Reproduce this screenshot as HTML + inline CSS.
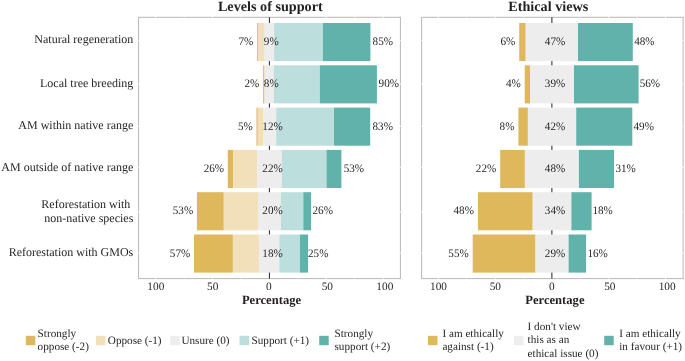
<!DOCTYPE html>
<html><head><meta charset="utf-8"><title>Levels of support and ethical views</title>
<style>
html,body{margin:0;padding:0;background:#fff;}
body{width:685px;height:361px;overflow:hidden;position:relative;font-family:"Liberation Serif",serif;}
</style></head><body>
<svg width="685" height="361" viewBox="0 0 685 361" style="position:absolute;left:0;top:0;font-family:'Liberation Serif',serif;text-rendering:geometricPrecision;">
<rect width="685" height="361" fill="#fff"/>
<rect x="138.6" y="17.3" width="261.80" height="261.30" fill="#fff" stroke="#BAB6B8" stroke-width="1"/>
<line x1="155.65" y1="16.3" x2="155.65" y2="279.6" stroke="#fff" stroke-width="0.9"/>
<line x1="184.09" y1="16.3" x2="184.09" y2="279.6" stroke="#fff" stroke-width="0.5"/>
<line x1="212.52" y1="16.3" x2="212.52" y2="279.6" stroke="#fff" stroke-width="0.9"/>
<line x1="240.96" y1="16.3" x2="240.96" y2="279.6" stroke="#fff" stroke-width="0.5"/>
<line x1="297.84" y1="16.3" x2="297.84" y2="279.6" stroke="#fff" stroke-width="0.5"/>
<line x1="326.27" y1="16.3" x2="326.27" y2="279.6" stroke="#fff" stroke-width="0.9"/>
<line x1="354.71" y1="16.3" x2="354.71" y2="279.6" stroke="#fff" stroke-width="0.5"/>
<line x1="383.15" y1="16.3" x2="383.15" y2="279.6" stroke="#fff" stroke-width="0.9"/>
<line x1="137.6" y1="40.40" x2="401.4" y2="40.40" stroke="#fff" stroke-width="0.9"/>
<line x1="137.6" y1="84.20" x2="401.4" y2="84.20" stroke="#fff" stroke-width="0.9"/>
<line x1="137.6" y1="126.20" x2="401.4" y2="126.20" stroke="#fff" stroke-width="0.9"/>
<line x1="137.6" y1="167.30" x2="401.4" y2="167.30" stroke="#fff" stroke-width="0.9"/>
<line x1="137.6" y1="212.00" x2="401.4" y2="212.00" stroke="#fff" stroke-width="0.9"/>
<line x1="137.6" y1="253.00" x2="401.4" y2="253.00" stroke="#fff" stroke-width="0.9"/>
<line x1="269.40" y1="17.3" x2="269.40" y2="278.6" stroke="#222" stroke-width="1"/>
<rect x="421.6" y="17.3" width="261.50" height="261.30" fill="#fff" stroke="#BAB6B8" stroke-width="1"/>
<line x1="438.30" y1="16.3" x2="438.30" y2="279.6" stroke="#fff" stroke-width="0.9"/>
<line x1="466.70" y1="16.3" x2="466.70" y2="279.6" stroke="#fff" stroke-width="0.5"/>
<line x1="495.10" y1="16.3" x2="495.10" y2="279.6" stroke="#fff" stroke-width="0.9"/>
<line x1="523.50" y1="16.3" x2="523.50" y2="279.6" stroke="#fff" stroke-width="0.5"/>
<line x1="580.30" y1="16.3" x2="580.30" y2="279.6" stroke="#fff" stroke-width="0.5"/>
<line x1="608.70" y1="16.3" x2="608.70" y2="279.6" stroke="#fff" stroke-width="0.9"/>
<line x1="637.10" y1="16.3" x2="637.10" y2="279.6" stroke="#fff" stroke-width="0.5"/>
<line x1="665.50" y1="16.3" x2="665.50" y2="279.6" stroke="#fff" stroke-width="0.9"/>
<line x1="420.6" y1="40.40" x2="684.1" y2="40.40" stroke="#fff" stroke-width="0.9"/>
<line x1="420.6" y1="84.20" x2="684.1" y2="84.20" stroke="#fff" stroke-width="0.9"/>
<line x1="420.6" y1="126.20" x2="684.1" y2="126.20" stroke="#fff" stroke-width="0.9"/>
<line x1="420.6" y1="167.30" x2="684.1" y2="167.30" stroke="#fff" stroke-width="0.9"/>
<line x1="420.6" y1="212.00" x2="684.1" y2="212.00" stroke="#fff" stroke-width="0.9"/>
<line x1="420.6" y1="253.00" x2="684.1" y2="253.00" stroke="#fff" stroke-width="0.9"/>
<line x1="551.90" y1="17.3" x2="551.90" y2="278.6" stroke="#222" stroke-width="1"/>
<rect x="257.00" y="23.00" width="0.90" height="38.10" fill="#DFB85C"/>
<rect x="257.90" y="23.00" width="6.80" height="38.10" fill="#F2E0BA"/>
<rect x="264.70" y="23.00" width="9.40" height="38.10" fill="#EDEDED"/>
<rect x="274.10" y="23.00" width="48.80" height="38.10" fill="#BCDFDD"/>
<rect x="322.90" y="23.00" width="47.50" height="38.10" fill="#60B2AB"/>
<rect x="263.00" y="65.30" width="0.90" height="38.10" fill="#DFB85C"/>
<rect x="263.90" y="65.30" width="1.00" height="38.10" fill="#F2E0BA"/>
<rect x="264.90" y="65.30" width="9.00" height="38.10" fill="#EDEDED"/>
<rect x="273.90" y="65.30" width="45.90" height="38.10" fill="#BCDFDD"/>
<rect x="319.80" y="65.30" width="57.10" height="38.10" fill="#60B2AB"/>
<rect x="256.50" y="107.60" width="1.30" height="38.10" fill="#DFB85C"/>
<rect x="257.80" y="107.60" width="5.20" height="38.10" fill="#F2E0BA"/>
<rect x="263.00" y="107.60" width="13.20" height="38.10" fill="#EDEDED"/>
<rect x="276.20" y="107.60" width="57.80" height="38.10" fill="#BCDFDD"/>
<rect x="334.00" y="107.60" width="36.20" height="38.10" fill="#60B2AB"/>
<rect x="227.80" y="149.90" width="5.30" height="38.10" fill="#DFB85C"/>
<rect x="233.10" y="149.90" width="24.10" height="38.10" fill="#F2E0BA"/>
<rect x="257.20" y="149.90" width="24.50" height="38.10" fill="#EDEDED"/>
<rect x="281.70" y="149.90" width="44.80" height="38.10" fill="#BCDFDD"/>
<rect x="326.50" y="149.90" width="14.90" height="38.10" fill="#60B2AB"/>
<rect x="196.90" y="192.20" width="26.90" height="38.10" fill="#DFB85C"/>
<rect x="223.80" y="192.20" width="34.20" height="38.10" fill="#F2E0BA"/>
<rect x="258.00" y="192.20" width="22.90" height="38.10" fill="#EDEDED"/>
<rect x="280.90" y="192.20" width="22.40" height="38.10" fill="#BCDFDD"/>
<rect x="303.30" y="192.20" width="7.80" height="38.10" fill="#60B2AB"/>
<rect x="194.00" y="234.50" width="38.90" height="38.10" fill="#DFB85C"/>
<rect x="232.90" y="234.50" width="26.30" height="38.10" fill="#F2E0BA"/>
<rect x="259.20" y="234.50" width="20.10" height="38.10" fill="#EDEDED"/>
<rect x="279.30" y="234.50" width="20.70" height="38.10" fill="#BCDFDD"/>
<rect x="300.00" y="234.50" width="8.10" height="38.10" fill="#60B2AB"/>
<rect x="519.20" y="23.00" width="6.50" height="38.10" fill="#DFB85C"/>
<rect x="525.70" y="23.00" width="52.30" height="38.10" fill="#EDEDED"/>
<rect x="578.00" y="23.00" width="54.80" height="38.10" fill="#60B2AB"/>
<rect x="524.70" y="65.30" width="5.50" height="38.10" fill="#DFB85C"/>
<rect x="530.20" y="65.30" width="43.80" height="38.10" fill="#EDEDED"/>
<rect x="574.00" y="65.30" width="64.60" height="38.10" fill="#60B2AB"/>
<rect x="518.40" y="107.60" width="9.50" height="38.10" fill="#DFB85C"/>
<rect x="527.90" y="107.60" width="48.30" height="38.10" fill="#EDEDED"/>
<rect x="576.20" y="107.60" width="56.10" height="38.10" fill="#60B2AB"/>
<rect x="500.20" y="149.90" width="24.70" height="38.10" fill="#DFB85C"/>
<rect x="524.90" y="149.90" width="54.00" height="38.10" fill="#EDEDED"/>
<rect x="578.90" y="149.90" width="35.20" height="38.10" fill="#60B2AB"/>
<rect x="477.90" y="192.20" width="54.80" height="38.10" fill="#DFB85C"/>
<rect x="532.70" y="192.20" width="38.70" height="38.10" fill="#EDEDED"/>
<rect x="571.40" y="192.20" width="20.20" height="38.10" fill="#60B2AB"/>
<rect x="472.70" y="234.50" width="62.80" height="38.10" fill="#DFB85C"/>
<rect x="535.50" y="234.50" width="33.10" height="38.10" fill="#EDEDED"/>
<rect x="568.60" y="234.50" width="17.50" height="38.10" fill="#60B2AB"/>
<rect x="25.80" y="335.8" width="9.5" height="9.4" fill="#DFB85C"/>
<rect x="95.90" y="335.8" width="9.5" height="9.4" fill="#F2E0BA"/>
<rect x="170.30" y="335.8" width="9.5" height="9.4" fill="#EDEDED"/>
<rect x="239.50" y="335.8" width="9.5" height="9.4" fill="#BCDFDD"/>
<rect x="319.20" y="335.8" width="9.5" height="9.4" fill="#60B2AB"/>
<rect x="428.00" y="335.8" width="9.5" height="9.4" fill="#DFB85C"/>
<rect x="514.00" y="335.8" width="9.5" height="9.4" fill="#EDEDED"/>
<rect x="604.20" y="335.8" width="9.5" height="9.4" fill="#60B2AB"/>
<g style="will-change:transform">
<text transform="translate(253.30,45.05) scale(0.97,1)" font-size="11.5" text-anchor="end" fill="#231F20">7%</text>
<text transform="translate(263.80,45.05) scale(0.97,1)" font-size="11.5" text-anchor="start" fill="#231F20">9%</text>
<text transform="translate(372.60,45.05) scale(0.97,1)" font-size="11.5" text-anchor="start" fill="#231F20">85%</text>
<text transform="translate(259.30,87.35) scale(0.97,1)" font-size="11.5" text-anchor="end" fill="#231F20">2%</text>
<text transform="translate(263.80,87.35) scale(0.97,1)" font-size="11.5" text-anchor="start" fill="#231F20">8%</text>
<text transform="translate(378.60,87.35) scale(0.97,1)" font-size="11.5" text-anchor="start" fill="#231F20">90%</text>
<text transform="translate(252.80,129.65) scale(0.97,1)" font-size="11.5" text-anchor="end" fill="#231F20">5%</text>
<text transform="translate(262.30,129.65) scale(0.97,1)" font-size="11.5" text-anchor="start" fill="#231F20">12%</text>
<text transform="translate(372.50,129.65) scale(0.97,1)" font-size="11.5" text-anchor="start" fill="#231F20">83%</text>
<text transform="translate(224.10,171.95) scale(0.97,1)" font-size="11.5" text-anchor="end" fill="#231F20">26%</text>
<text transform="translate(262.30,171.95) scale(0.97,1)" font-size="11.5" text-anchor="start" fill="#231F20">22%</text>
<text transform="translate(343.70,171.95) scale(0.97,1)" font-size="11.5" text-anchor="start" fill="#231F20">53%</text>
<text transform="translate(193.20,214.25) scale(0.97,1)" font-size="11.5" text-anchor="end" fill="#231F20">53%</text>
<text transform="translate(262.30,214.25) scale(0.97,1)" font-size="11.5" text-anchor="start" fill="#231F20">20%</text>
<text transform="translate(312.50,214.25) scale(0.97,1)" font-size="11.5" text-anchor="start" fill="#231F20">26%</text>
<text transform="translate(190.30,256.55) scale(0.97,1)" font-size="11.5" text-anchor="end" fill="#231F20">57%</text>
<text transform="translate(262.30,256.55) scale(0.97,1)" font-size="11.5" text-anchor="start" fill="#231F20">18%</text>
<text transform="translate(308.00,256.55) scale(0.97,1)" font-size="11.5" text-anchor="start" fill="#231F20">25%</text>
<text transform="translate(515.30,45.05) scale(0.97,1)" font-size="11.5" text-anchor="end" fill="#231F20">6%</text>
<text transform="translate(555.10,45.05) scale(0.97,1)" font-size="11.5" text-anchor="middle" fill="#231F20">47%</text>
<text transform="translate(634.20,45.05) scale(0.97,1)" font-size="11.5" text-anchor="start" fill="#231F20">48%</text>
<text transform="translate(520.80,87.35) scale(0.97,1)" font-size="11.5" text-anchor="end" fill="#231F20">4%</text>
<text transform="translate(555.10,87.35) scale(0.97,1)" font-size="11.5" text-anchor="middle" fill="#231F20">39%</text>
<text transform="translate(639.70,87.35) scale(0.97,1)" font-size="11.5" text-anchor="start" fill="#231F20">56%</text>
<text transform="translate(514.50,129.65) scale(0.97,1)" font-size="11.5" text-anchor="end" fill="#231F20">8%</text>
<text transform="translate(555.10,129.65) scale(0.97,1)" font-size="11.5" text-anchor="middle" fill="#231F20">42%</text>
<text transform="translate(633.50,129.65) scale(0.97,1)" font-size="11.5" text-anchor="start" fill="#231F20">49%</text>
<text transform="translate(496.30,171.95) scale(0.97,1)" font-size="11.5" text-anchor="end" fill="#231F20">22%</text>
<text transform="translate(555.10,171.95) scale(0.97,1)" font-size="11.5" text-anchor="middle" fill="#231F20">48%</text>
<text transform="translate(615.40,171.95) scale(0.97,1)" font-size="11.5" text-anchor="start" fill="#231F20">31%</text>
<text transform="translate(474.00,214.25) scale(0.97,1)" font-size="11.5" text-anchor="end" fill="#231F20">48%</text>
<text transform="translate(555.10,214.25) scale(0.97,1)" font-size="11.5" text-anchor="middle" fill="#231F20">34%</text>
<text transform="translate(592.40,214.25) scale(0.97,1)" font-size="11.5" text-anchor="start" fill="#231F20">18%</text>
<text transform="translate(468.80,256.55) scale(0.97,1)" font-size="11.5" text-anchor="end" fill="#231F20">55%</text>
<text transform="translate(555.10,256.55) scale(0.97,1)" font-size="11.5" text-anchor="middle" fill="#231F20">29%</text>
<text transform="translate(587.40,256.55) scale(0.97,1)" font-size="11.5" text-anchor="start" fill="#231F20">16%</text>
<text x="133.30" y="43.00" font-size="12" text-anchor="end" fill="#231F20">Natural regeneration</text>
<text x="133.30" y="87.00" font-size="12" text-anchor="end" fill="#231F20">Local tree breeding</text>
<text x="133.30" y="129.00" font-size="12" text-anchor="end" fill="#231F20">AM within native range</text>
<text x="133.30" y="171.00" font-size="12" text-anchor="end" fill="#231F20">AM outside of native range</text>
<text x="133.30" y="208.00" font-size="12" text-anchor="end" fill="#231F20">Reforestation with </text>
<text x="133.30" y="222.00" font-size="12" text-anchor="end" fill="#231F20">non-native species</text>
<text x="133.30" y="256.00" font-size="12" text-anchor="end" fill="#231F20">Reforestation with GMOs</text>
<text x="270.30" y="10.60" font-size="14.2" text-anchor="middle" font-weight="bold" fill="#231F20">Levels of support</text>
<text x="548.30" y="10.60" font-size="14.2" text-anchor="middle" font-weight="bold" fill="#231F20">Ethical views</text>
<text x="155.85" y="290.00" font-size="11.3" text-anchor="middle" fill="#231F20">100</text>
<text x="212.72" y="290.00" font-size="11.3" text-anchor="middle" fill="#231F20">50</text>
<text x="268.90" y="290.00" font-size="11.3" text-anchor="middle" fill="#231F20">0</text>
<text x="327.38" y="290.00" font-size="11.3" text-anchor="middle" fill="#231F20">50</text>
<text x="384.85" y="290.00" font-size="11.3" text-anchor="middle" fill="#231F20">100</text>
<text x="271.50" y="303.60" font-size="12.6" text-anchor="middle" font-weight="bold" fill="#231F20">Percentage</text>
<text x="438.50" y="290.00" font-size="11.3" text-anchor="middle" fill="#231F20">100</text>
<text x="495.30" y="290.00" font-size="11.3" text-anchor="middle" fill="#231F20">50</text>
<text x="551.90" y="290.00" font-size="11.3" text-anchor="middle" fill="#231F20">0</text>
<text x="609.80" y="290.00" font-size="11.3" text-anchor="middle" fill="#231F20">50</text>
<text x="667.20" y="290.00" font-size="11.3" text-anchor="middle" fill="#231F20">100</text>
<text x="554.90" y="303.60" font-size="12.6" text-anchor="middle" font-weight="bold" fill="#231F20">Percentage</text>
<text x="37.60" y="337.00" font-size="11.2" text-anchor="start" fill="#231F20">Strongly</text>
<text x="37.60" y="350.00" font-size="11.2" text-anchor="start" fill="#231F20">oppose (-2)</text>
<text x="107.80" y="343.80" font-size="11.2" text-anchor="start" fill="#231F20">Oppose (-1)</text>
<text x="181.40" y="343.80" font-size="11.2" text-anchor="start" fill="#231F20">Unsure (0)</text>
<text x="251.50" y="343.80" font-size="11.2" text-anchor="start" fill="#231F20">Support (+1)</text>
<text x="334.50" y="336.60" font-size="11.2" text-anchor="start" fill="#231F20">Strongly</text>
<text x="334.50" y="350.00" font-size="11.2" text-anchor="start" fill="#231F20">support (+2)</text>
<text x="442.40" y="336.80" font-size="11.2" text-anchor="start" fill="#231F20">I am ethically</text>
<text x="442.40" y="350.30" font-size="11.2" text-anchor="start" fill="#231F20">against (-1)</text>
<text x="527.60" y="329.50" font-size="11.2" text-anchor="start" fill="#231F20">I don't view</text>
<text x="527.60" y="343.20" font-size="11.2" text-anchor="start" fill="#231F20">this as an</text>
<text x="527.60" y="356.80" font-size="11.2" text-anchor="start" fill="#231F20">ethical issue (0)</text>
<text x="619.20" y="336.80" font-size="11.2" text-anchor="start" fill="#231F20">I am ethically</text>
<text x="619.20" y="350.30" font-size="11.2" text-anchor="start" fill="#231F20">in favour (+1)</text>
</g>
</svg>
</body></html>
